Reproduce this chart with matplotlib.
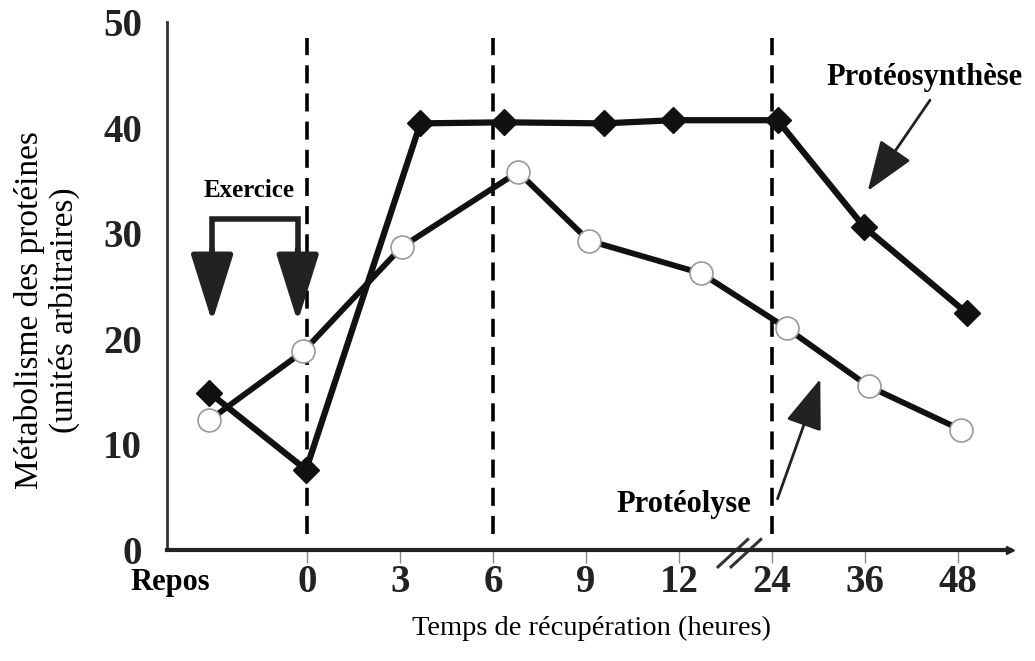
import matplotlib.pyplot as plt
from matplotlib.transforms import blended_transform_factory

# categories on the time axis (one slot each, axis broken between 12 and 24)
categories = ['0', '3', '6', '9', '12', '24', '36', '48']
cat_pos = [0, 1, 2, 3, 4, 5, 6, 7]
rest_label = 'Repos'

# proteosynthesis (filled diamonds), slot position and value
synth_x = [-1.05, -0.01, 1.22, 2.12, 3.19, 3.94, 5.06, 5.99, 7.10]
synth_y = [14.9, 7.6, 40.4, 40.5, 40.4, 40.7, 40.7, 30.6, 22.4]

# proteolysis (open circles)
lysis_x = [-1.05, -0.04, 1.02, 2.27, 3.03, 4.24, 5.16, 6.04, 7.03]
lysis_y = [12.3, 18.8, 28.7, 35.8, 29.3, 26.2, 21.0, 15.5, 11.4]

# dashed markers at 0 h, 6 h and 24 h
vlines_x = [0, 2, 5]
yticks = [0, 10, 20, 30, 40, 50]

serif = ['Liberation Serif', 'DejaVu Serif']

fig = plt.figure(figsize=(10.35, 6.61), dpi=100)
ax = fig.add_axes([167 / 1035, 1 - 550 / 661, 843 / 1035, 528 / 661])
ax.set_xlim(-1.505, 7.56)
ax.set_ylim(0, 50)

for s in ['top', 'right']:
    ax.spines[s].set_visible(False)
ax.spines['left'].set_linewidth(2)
ax.spines['left'].set_color('#333333')
ax.spines['bottom'].set_linewidth(3)
ax.spines['bottom'].set_color('#222222')

ax.set_yticks(yticks)
ax.set_yticklabels([str(v) for v in yticks], family=serif, fontweight='bold',
                   fontsize=28, color='#222222')
ax.tick_params(axis='y', length=0, pad=18)
ax.set_xticks(cat_pos)
ax.set_xticklabels(categories, family=serif, fontweight='bold', fontsize=28,
                   color='#222222')
ax.tick_params(axis='x', length=9, width=1, color='#888888', pad=1)

# axis arrow
ax.plot(7.56, 0, marker='>', color='#222222', markersize=6, clip_on=False,
        transform=blended_transform_factory(ax.transData, ax.transData))

# axis break //
for dx in [0, 0.14]:
    ax.plot([4.42 + dx, 4.74 + dx], [-1.6, 1.0], color='#333333', lw=2.2,
            clip_on=False)

for xv in vlines_x:
    ax.plot([xv, xv], [1.5, 48.5], color='black', lw=2.6,
            linestyle=(0, (5, 2.8)), zorder=2)

ax.plot(synth_x, synth_y, color='#111111', lw=4.5, marker='D', markersize=13,
        markerfacecolor='#111111', markeredgecolor='#111111', zorder=3)
ax.plot(lysis_x, lysis_y, color='#111111', lw=4.2, zorder=3)
ax.plot(lysis_x, lysis_y, linestyle='none', marker='o', markersize=16.5,
        markerfacecolor='white', markeredgecolor='#999999',
        markeredgewidth=1.2, zorder=4)

# Exercice bracket with two arrows
ax.plot([-1.02, -1.02, -0.1, -0.1], [27.6, 31.3, 31.3, 27.6], color='#222222',
        lw=4, solid_joinstyle='miter', zorder=3)
for xa in [-1.02, -0.1]:
    ax.annotate('', xy=(xa, 21.6), xytext=(xa, 28.5),
                arrowprops=dict(arrowstyle='-|>,head_length=1.05,head_width=0.33',
                                mutation_scale=40, lw=4, color='#222222',
                                shrinkA=0, shrinkB=0), zorder=3)
ax.text(-0.62, 34.0, 'Exercice', family=serif, fontweight='bold', fontsize=18,
        ha='center', va='center')

# labels with arrows
ax.text(6.64, 44.7, 'Protéosynthèse', family=serif, fontweight='bold',
        fontsize=22, ha='center', va='center')
ax.annotate('', xy=(6.03, 34.0), xytext=(6.70, 42.6),
            arrowprops=dict(arrowstyle='-|>,head_length=0.9,head_width=0.33',
                            mutation_scale=35, lw=2, color='#222222',
                            shrinkA=0, shrinkB=0))
ax.text(4.05, 4.3, 'Protéolyse', family=serif, fontweight='bold',
        fontsize=22, ha='center', va='center')
ax.annotate('', xy=(5.52, 16.2), xytext=(5.06, 4.85),
            arrowprops=dict(arrowstyle='-|>,head_length=0.9,head_width=0.33',
                            mutation_scale=35, lw=2, color='#222222',
                            shrinkA=0, shrinkB=0))

ax.text(-1.47, -3.1, rest_label, family=serif, fontweight='bold', fontsize=22,
        ha='center', va='center', clip_on=False)

fig.text(592 / 1035, 1 - 628 / 661, 'Temps de récupération (heures)',
         family=serif, fontsize=20.5, ha='center', va='center')
fig.text(47 / 1035, 1 - 310 / 661,
         'Métabolisme des protéines\n(unités arbitraires)', family=serif,
         fontsize=24, ha='center', va='center', rotation=90, linespacing=1.15)

fig.savefig('out.png', dpi=100)
